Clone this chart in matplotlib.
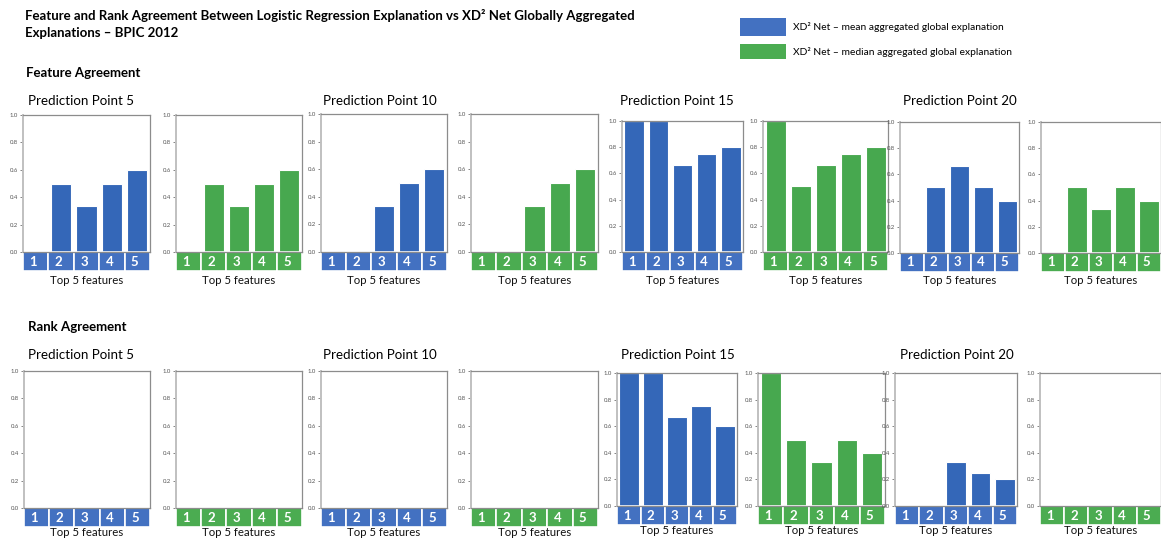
import matplotlib.pyplot as plt
from matplotlib.patches import Rectangle
import numpy as np

plt.rcParams['font.family'] = ['Lato', 'DejaVu Sans']

W, H = 1161, 541

features = ['1', '2', '3', '4', '5']
points = [5, 10, 15, 20]

# feature agreement, one list per prediction point
feat_mean = [[0, 0.5, 0.333, 0.5, 0.6],
             [0, 0, 0.333, 0.5, 0.6],
             [1.0, 1.0, 0.667, 0.75, 0.8],
             [0, 0.5, 0.667, 0.5, 0.4]]
feat_median = [[0, 0.5, 0.333, 0.5, 0.6],
               [0, 0, 0.333, 0.5, 0.6],
               [1.0, 0.5, 0.667, 0.75, 0.8],
               [0, 0.5, 0.333, 0.5, 0.4]]

# rank agreement
rank_mean = [[0, 0, 0, 0, 0],
             [0, 0, 0, 0, 0],
             [1.0, 1.0, 0.667, 0.75, 0.6],
             [0, 0, 0.333, 0.25, 0.2]]
rank_median = [[0, 0, 0, 0, 0],
               [0, 0, 0, 0, 0],
               [1.0, 0.5, 0.333, 0.5, 0.4],
               [0, 0, 0, 0, 0]]

blue_bar, blue_box = '#3467b8', '#4371c1'
green_bar, green_box = '#47a84f', '#4bac51'

# axes boxes in image pixels: left, top, right, bottom
top_boxes = [(23, 115, 150, 252), (176, 115, 302, 252),
             (321, 114, 447, 252), (471, 114, 598, 252),
             (622, 121, 743, 252), (763, 121, 888, 252),
             (900, 122, 1019, 253), (1041, 122, 1161, 253)]
bot_boxes = [(24, 371, 150, 508), (176, 371, 302, 508),
             (321, 371, 447, 508), (471, 371, 598, 508),
             (617, 373, 737, 506), (758, 373, 885, 506),
             (895, 373, 1017, 506), (1040, 373, 1161, 506)]

fig = plt.figure(figsize=(W / 100, H / 100), dpi=100)


def ftext(x, y, s, **kw):
    fig.text(x / W, 1 - y / H, s, **kw)


def panel(box, vals, bar_col, box_col, lab_off):
    l, t, r, b = box
    ax = fig.add_axes([l / W, 1 - b / H, (r - l) / W, (b - t) / H])
    x = np.arange(len(features))
    ax.bar(x, vals, width=0.8, color=bar_col, edgecolor='white', linewidth=0.8)
    ax.set_xlim(-0.5, 4.5)
    ax.set_ylim(0, 1)
    ax.set_yticks(np.arange(0, 1.01, 0.2))
    ax.set_yticklabels(['%.1f' % v for v in np.arange(0, 1.01, 0.2)])
    ax.tick_params(axis='y', labelsize=4.3, length=2, width=0.5,
                   colors='#555555', pad=1.5)
    ax.set_xticks([])
    for s in ax.spines.values():
        s.set_color('#8c8c8c')
        s.set_linewidth(0.9)
    ax.spines['left'].set_color('#c0c0c0')
    ax.spines['left'].set_linewidth(1.4)
    hb = 19 / (b - t)
    tr = ax.get_xaxis_transform()
    for i, lab in enumerate(features):
        ax.add_patch(Rectangle((i - 0.5, -hb), 1, hb, transform=tr,
                               fc=box_col, ec='white', lw=1.2, clip_on=False))
        ax.text(i - 0.1, -hb / 2, lab, transform=tr, ha='center', va='center',
                color='white', fontsize=9.5, fontweight='bold')
    ftext((l + r) / 2, b + lab_off, 'Top 5 features', ha='center', va='center',
          fontsize=8.2, color='#111111')
    return ax


for k in range(4):
    panel(top_boxes[2 * k], feat_mean[k], blue_bar, blue_box, 28)
    panel(top_boxes[2 * k + 1], feat_median[k], green_bar, green_box, 28)
    panel(bot_boxes[2 * k], rank_mean[k], blue_bar, blue_box, 25)
    panel(bot_boxes[2 * k + 1], rank_median[k], green_bar, green_box, 25)

# headings
ftext(25, 16, 'Feature and Rank Agreement Between Logistic Regression Explanation vs XD\u00b2 Net Globally Aggregated',
      fontsize=9.5, fontweight='bold', va='center')
ftext(25, 33, 'Explanations \u2013 BPIC 2012', fontsize=9.5, fontweight='bold', va='center')
ftext(26, 73, 'Feature Agreement', fontsize=9.5, fontweight='bold', va='center')
ftext(28, 327, 'Rank Agreement', fontsize=9.5, fontweight='bold', va='center')

top_title_x = [28, 323, 620, 903]
bot_title_x = [28, 323, 621, 900]
for k, p in enumerate(points):
    ftext(top_title_x[k], 101, 'Prediction Point %d' % p, fontsize=9.6, va='center')
    ftext(bot_title_x[k], 355, 'Prediction Point %d' % p, fontsize=9.6, va='center')

# legend
fig.patches.append(Rectangle((740 / W, 1 - 36 / H), 46 / W, 18 / H,
                             transform=fig.transFigure, fc=blue_box, ec='none'))
fig.patches.append(Rectangle((740 / W, 1 - 59 / H), 46 / W, 15 / H,
                             transform=fig.transFigure, fc=green_box, ec='none'))
ftext(793, 27, 'XD\u00b2 Net \u2013 mean aggregated global explanation', fontsize=7.4, va='center')
ftext(793, 52, 'XD\u00b2 Net \u2013 median aggregated global explanation', fontsize=7.4, va='center')

fig.savefig('out.png', dpi=100)
